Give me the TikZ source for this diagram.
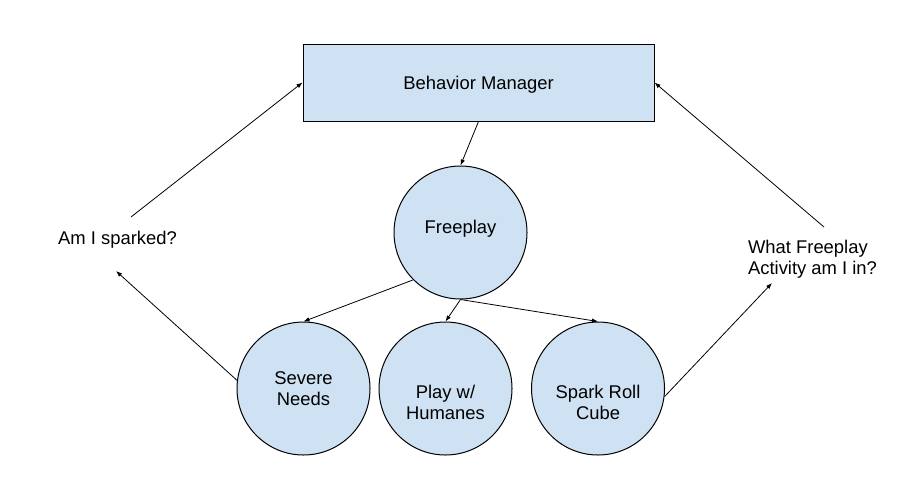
\documentclass[tikz,border=0pt]{standalone}
\usepackage{fontspec}
\setmainfont{Liberation Sans}
\usetikzlibrary{arrows.meta}
\definecolor{boxfill}{HTML}{CFE2F3}
\begin{document}
\begin{tikzpicture}[x=1pt,y=-1pt,
  every node/.style={font=\fontsize{18.4pt}{21pt}\selectfont, text=black},
  box/.style={draw=black, fill=boxfill, line width=1pt, rectangle, minimum width=351pt, minimum height=77pt, inner sep=0pt},
  ball/.style={draw=black, fill=boxfill, line width=1pt, circle, minimum size=133pt, inner sep=0pt, align=center},
  inner/.style={align=center, inner sep=0pt},
  lbl/.style={align=left, inner sep=0pt},
  conn/.style={draw=black, line width=0.8pt, -{Latex[length=6pt,width=4.5pt]}}
]
\useasboundingbox (0,0) rectangle (909,496);
\node[box, label={[inner, yshift=-2.5pt]center:Behavior Manager}] (bm) at (478.5,82.5) {};
\node[ball, label={[inner, yshift=4pt]center:Freeplay}] (fp) at (460.5,232.5) {};
\node[ball] (sn) at (303.5,388.5) {Severe\\Needs};
\node[ball, label={[inner, yshift=-14pt]center:Play w/\\Humanes}] (ph) at (445.5,388.5) {};
\node[ball, label={[inner, yshift=-14pt]center:Spark Roll\\Cube}] (sc) at (598,388.5) {};
\node[lbl] (q1) at (117.5,240) {Am I sparked?};
\node[lbl] (q2) at (812.5,259) {What Freeplay\\Activity am I in?};
\coordinate (q1in) at (116,271);
\coordinate (q1out) at (131,217);
\coordinate (q2in) at (772,283);
\coordinate (q2out) at (824,227);
\draw[conn] (bm.south) -- (fp.north);
\draw[conn] (fp.south west) -- (sn.north);
\draw[conn] (fp.south) -- (ph.north);
\draw[conn] (fp.south) -- (sc.north);
\draw[conn] (sn.173) -- (q1in);
\draw[conn] (q1out) -- (bm.west);
\draw[conn] (sc.-7) -- (q2in);
\draw[conn] (q2out) -- (bm.east);
\end{tikzpicture}
\end{document}
